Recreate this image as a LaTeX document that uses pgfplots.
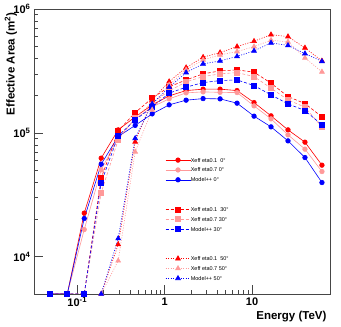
\documentclass[border=0pt]{standalone}
\usepackage{fontspec}
\setmainfont{Liberation Sans}
\usepackage{pgfplots}
\pgfplotsset{compat=1.18}

\definecolor{rred}{RGB}{255,0,0}
\definecolor{rpink}{RGB}{255,153,153}
\definecolor{rblue}{RGB}{0,0,255}
\definecolor{frame}{RGB}{70,70,70}

\pgfplotsset{
  deg0/.style={solid, line width=0.6pt, mark=*, mark size=2.3pt},
  deg30/.style={line width=0.6pt, dash pattern=on 3pt off 2pt, mark=square*, mark size=2.5pt, mark options={solid}},
  deg50/.style={line width=0.6pt, dash pattern=on 1pt off 1.5pt, mark=triangle*, mark size=2.8pt, mark options={solid}},
}

\begin{document}
\begin{tikzpicture}
\path[use as bounding box] (-34pt,-33pt) rectangle (307pt,294pt);
\begin{axis}[
    at={(0pt,0pt)}, anchor=south west,
    scale only axis,
    width=296pt, height=285pt,
    xmode=log, ymode=log,
    xmin=0.032, xmax=78,
    ymin=5000, ymax=1e6,
    xtick={0.1,1,10},
    xticklabels={10\textsuperscript{-1},1,10},
    ytick={1e4,1e5,1e6},
    yticklabels={10\textsuperscript{4},10\textsuperscript{5},10\textsuperscript{6}},
    tick label style={font=\fontsize{11}{11}\selectfont\bfseries},
    tick pos=left, tick align=inside,
    major tick length=9pt, minor tick length=4.5pt,
    every tick/.style={frame, line width=0.5pt},
    axis line style={frame, line width=0.8pt},
    xlabel={Energy (TeV)},
    ylabel={Effective Area (m\textsuperscript{2})},
    xlabel style={font=\fontsize{11.5}{12}\selectfont\bfseries, at={(rel axis cs:1,-0.08)}, anchor=east},
    ylabel style={font=\fontsize{11.5}{12}\selectfont\bfseries, at={(rel axis cs:-0.078,1)}, anchor=east},
    legend cell align=left,
    legend style={draw=none, fill=none, at={(rel axis cs:0.4426,0.481)}, anchor=north west,
      font=\fontsize{5.5}{6}\selectfont, row sep=3.85pt, inner sep=0pt,
      nodes={inner sep=0pt, text height=5pt, text depth=1pt, outer sep=0pt}},
    legend image code/.code={\draw[mark repeat=2, mark phase=2, #1] plot coordinates {(0pt,0pt) (12.5pt,0pt) (25pt,0pt)};},
]
% 0 deg
\addplot[deg0, color=rred] coordinates {
(0.0491,5000)(0.0769,5000)(0.1202,22490)(0.1880,62500)(0.2941,105700)(0.4601,134600)(0.7197,168300)(1.126,198900)(1.761,219500)(2.754,225300)(4.308,225300)(6.740,219500)(10.54,175600)(16.49,137200)(25.79,105700)(40.34,84100)(63.10,54860)};
\addlegendentry{Xeff eta0.1\ \ 0°}
\addplot[deg0, color=rpink] coordinates {
(0.0491,5000)(0.0769,5000)(0.1202,16580)(0.1880,50280)(0.2941,91130)(0.4601,129700)(0.7197,162100)(1.126,188100)(1.761,210300)(2.754,214200)(4.308,212300)(6.740,211500)(10.54,165100)(16.49,129700)(25.79,96360)(40.34,73870)(63.10,48720)};
\addlegendentry{Xeff eta0.7 0°}
\addplot[deg0, color=rblue] coordinates {
(0.0491,5000)(0.0769,5000)(0.1202,20340)(0.1880,55890)(0.2941,93350)(0.4601,114900)(0.7197,142300)(1.126,168300)(1.761,183600)(2.754,189100)(4.308,188100)(6.740,173600)(10.54,136400)(16.49,111800)(25.79,86170)(40.34,63190)(63.10,39710)};
\addlegendentry{Model++ 0°}
\addlegendimage{empty legend}\addlegendentry{}
\addlegendimage{empty legend}\addlegendentry{}
% bottom run of the 50 deg curves, under the squares
\addplot[forget plot, line width=0.6pt, dash pattern=on 1pt off 1.5pt, color=rblue] coordinates {
(0.0491,5000)(0.0769,5000)(0.1202,5000)(0.1880,5000)};
% 30 deg
\addplot[deg30, color=rred] coordinates {
(0.0491,5000)(0.0769,5000)(0.1202,5000)(0.1880,43090)(0.2941,103800)(0.4601,145800)(0.7197,190600)(1.126,235100)(1.761,267700)(2.754,299400)(4.308,316500)(6.740,322400)(10.54,309000)(16.49,251800)(25.79,196300)(40.34,172400)(63.10,134600)};
\addlegendentry{Xeff eta0.1\ \ 30°}
\addplot[deg30, color=rpink] coordinates {
(0.0491,5000)(0.0769,5000)(0.1202,5000)(0.1880,32980)(0.2941,87800)(0.4601,132100)(0.7197,174600)(1.126,218300)(1.761,258000)(2.754,284700)(4.308,299400)(6.740,306700)(10.54,284700)(16.49,229500)(25.79,184600)(40.34,161200)(63.10,111200)};
\addlegendentry{Xeff eta0.7 30°}
\addplot[deg30, color=rblue] coordinates {
(0.0491,5000)(0.0769,5000)(0.1202,5000)(0.1880,39710)(0.2941,94580)(0.4601,127300)(0.7197,161200)(1.126,209100)(1.761,233800)(2.754,254700)(4.308,264200)(6.740,267700)(10.54,240800)(16.49,202600)(25.79,171400)(40.34,151400)(63.10,116000)};
\addlegendentry{Model++ 30°}
\addlegendimage{empty legend}\addlegendentry{}
\addlegendimage{empty legend}\addlegendentry{}
% 50 deg
\addplot[deg50, color=rred] coordinates {
(0.1880,5000)(0.2941,12550)(0.4601,84600)(0.7197,184600)(1.126,259400)(1.761,336500)(2.754,408300)(4.308,444700)(6.740,497000)(10.54,549700)(16.49,620300)(25.79,598700)(40.34,485300)(63.10,381100)};
\addlegendentry{Xeff eta0.1\ \ 50°}
\addplot[deg50, color=rpink] coordinates {
(0.1880,5000)(0.2941,9268)(0.4601,70270)(0.7197,153300)(1.126,244000)(1.761,322400)(2.754,388200)(4.308,426100)(6.740,453100)(10.54,497000)(16.49,560000)(25.79,542600)(40.34,402900)(63.10,310700)};
\addlegendentry{Xeff eta0.7 50°}
\addplot[deg50, color=rblue] coordinates {
(0.1880,5000)(0.2941,14030)(0.4601,90290)(0.7197,171400)(1.126,233800)(1.761,306700)(2.754,360600)(4.308,381100)(6.740,414400)(10.54,459000)(16.49,532500)(25.79,508400)(40.34,436500)(63.10,377600)};
\addlegendentry{Model++ 50°}
\end{axis}
\end{tikzpicture}
\end{document}
